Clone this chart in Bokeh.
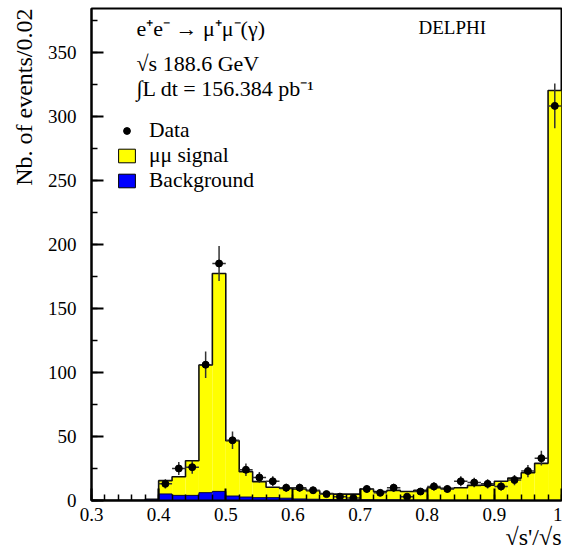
import numpy as np
from bokeh.plotting import figure
from bokeh.models import (ColumnDataSource, Range1d, SingleIntervalTicker,
                          CustomJSTickFormatter, Label, Legend, LegendItem,
                          Title)
from bokeh.embed import file_html
from bokeh.resources import INLINE

# ---------------- data ----------------
bin_left = [0.30, 0.32, 0.34, 0.36, 0.38, 0.40, 0.42, 0.44, 0.46, 0.48,
            0.50, 0.52, 0.54, 0.56, 0.58, 0.60, 0.62, 0.64, 0.66, 0.68,
            0.70, 0.72, 0.74, 0.76, 0.78, 0.80, 0.82, 0.84, 0.86, 0.88,
            0.90, 0.92, 0.94, 0.96, 0.98]
bin_right = [0.32, 0.34, 0.36, 0.38, 0.40, 0.42, 0.44, 0.46, 0.48, 0.50,
             0.52, 0.54, 0.56, 0.58, 0.60, 0.62, 0.64, 0.66, 0.68, 0.70,
             0.72, 0.74, 0.76, 0.78, 0.80, 0.82, 0.84, 0.86, 0.88, 0.90,
             0.92, 0.94, 0.96, 0.98, 1.00]
# mu mu signal + background (total expectation)
signal_total = [0, 0, 0, 0, 1.0, 15.5, 18.5, 31.0, 105.7, 177.2,
                46.6, 22.5, 14.7, 10.3, 9.5, 9.0, 7.6, 5.5, 5.0, 5.0,
                9.0, 7.0, 7.9, 7.0, 8.0, 10.0, 9.5, 10.0, 11.8, 12.0,
                15.0, 17.5, 21.7, 29.0, 320.0]
background = [0, 0, 0, 0, 0.5, 5.1, 4.0, 4.0, 6.1, 7.1,
              3.5, 2.7, 2.2, 2.2, 1.8, 1.2, 1.0, 0.8, 0.7, 0.6,
              0.6, 0.5, 0.5, 0.4, 0.4, 0.3, 0.3, 0.3, 0.3, 0.3,
              0.3, 0.3, 0.3, 0.3, 0.3]
data_x = [0.41, 0.43, 0.45, 0.47, 0.49, 0.51, 0.53, 0.55, 0.57, 0.59,
          0.61, 0.63, 0.65, 0.67, 0.69, 0.71, 0.73, 0.75, 0.77, 0.79,
          0.81, 0.83, 0.85, 0.87, 0.89, 0.91, 0.93, 0.95, 0.97, 0.99]
data_n = [13, 25, 26, 106, 185, 47, 24, 18, 15, 10,
          10, 8, 5, 3, 2, 9, 6, 10, 3, 7,
          11, 9, 15, 14, 13, 11, 16, 23, 33, 308]
x_axis_label = "√s'/√s"
y_axis_label = "Nb. of events/0.02"

# ---------------- figure ----------------
serif = "Liberation Serif"
W, H = 562, 554
ML, MR, MT, MB = 91, 1, 8, 54

p = figure(width=W, height=H, output_backend="svg", toolbar_location=None,
           x_range=Range1d(0.3, 1.0), y_range=Range1d(0, 384),
           min_border_left=ML, min_border_right=MR, min_border_top=MT,
           min_border_bottom=MB)
p.background_fill_color = "white"
p.border_fill_color = "white"
p.outline_line_color = "black"
p.outline_line_width = 2
p.grid.visible = False

hist = ColumnDataSource(dict(left=bin_left, right=bin_right,
                             total=signal_total, bkg=background))
p.quad(left="left", right="right", bottom=0, top="total", source=hist,
       fill_color="#ffff00", line_color=None)
p.quad(left="left", right="right", bottom=0, top="bkg", source=hist,
       fill_color="#0000ff", line_color=None)

edges = list(bin_left) + [bin_right[-1]]
p.step(x=edges, y=list(signal_total) + [signal_total[-1]], mode="after",
       line_color="#111111", line_width=1.6)
p.step(x=edges, y=list(background) + [background[-1]], mode="after",
       line_color="#000044", line_width=1)

n = np.array(data_n, dtype=float)
err = np.sqrt(n)
xs = np.array(data_x)
dsrc = ColumnDataSource(dict(x=xs, y=n, ylo=n - err, yhi=n + err,
                             xlo=xs - 0.01, xhi=xs + 0.01))
p.segment(x0="x", y0="ylo", x1="x", y1="yhi", source=dsrc,
          line_color="#333333", line_width=1.5)
p.segment(x0="xlo", y0="y", x1="xhi", y1="y", source=dsrc,
          line_color="#333333", line_width=1.5)
p.scatter(x="x", y="y", source=dsrc, size=7, marker="circle",
          fill_color="black", line_color="black")

# ---------------- axes ----------------
p.xaxis.ticker = SingleIntervalTicker(interval=0.1, num_minor_ticks=5)
p.yaxis.ticker = SingleIntervalTicker(interval=50, num_minor_ticks=2)
p.xaxis.formatter = CustomJSTickFormatter(
    code="return (Math.round(tick*10)/10).toString();")
for ax in (p.xaxis[0], p.yaxis[0]):
    ax.major_tick_in = 12
    ax.major_tick_out = 0
    ax.minor_tick_in = 6
    ax.minor_tick_out = 0
    ax.axis_line_width = 2
    ax.major_tick_line_width = 2
    ax.minor_tick_line_width = 1.5
    ax.major_label_text_font = serif
    ax.major_label_text_font_size = "19px"
    ax.major_label_text_color = "black"
p.xaxis.major_label_standoff = 7
p.yaxis.major_label_standoff = 15

# axis titles, right/top aligned like the original
p.add_layout(Title(text=x_axis_label, align="right", text_font=serif,
                   text_font_size="24px", text_font_style="normal",
                   text_color="black", standoff=-3), "below")
p.add_layout(Title(text=y_axis_label, align="right", text_font=serif,
                   text_font_size="24px", text_font_style="normal",
                   text_color="black", standoff=15), "left")

def add_label(text, x, y, size):
    p.add_layout(Label(x=x, y=y, x_units="screen", y_units="screen",
                       text=text, text_font=serif, text_font_size=size,
                       text_color="black", text_baseline="middle"))

# in-plot texts (screen units relative to the frame's bottom-left)
add_label("e⁺e⁻ → μ⁺μ⁻(γ)", 45, 472, "22px")
add_label("√s 188.6 GeV", 45, 437, "22px")
add_label("∫L dt = 156.384 pb⁻¹", 45, 412, "22px")
add_label("DELPHI", 327, 473, "19px")

# legend
nan = [np.nan]
leg_data = p.scatter(x=nan, y=nan, size=5, marker="circle",
                     fill_color="black", line_color="black")
leg_sig = p.quad(left=nan, right=nan, top=nan, bottom=nan,
                 fill_color="#ffff00", line_color="black", line_width=1)
leg_bkg = p.quad(left=nan, right=nan, top=nan, bottom=nan,
                 fill_color="#0000ff", line_color="black", line_width=1)
legend = Legend(items=[LegendItem(label="Data", renderers=[leg_data]),
                       LegendItem(label="μμ signal", renderers=[leg_sig]),
                       LegendItem(label="Background", renderers=[leg_bkg])],
                location=(25, 307), orientation="vertical",
                glyph_width=21, glyph_height=17, label_height=24,
                label_standoff=12, spacing=0, padding=0, margin=0,
                border_line_color=None, background_fill_alpha=0,
                label_text_font=serif, label_text_font_size="21.5px",
                label_text_color="black")
p.add_layout(legend)

open("out.html", "w").write(file_html(p, INLINE))
